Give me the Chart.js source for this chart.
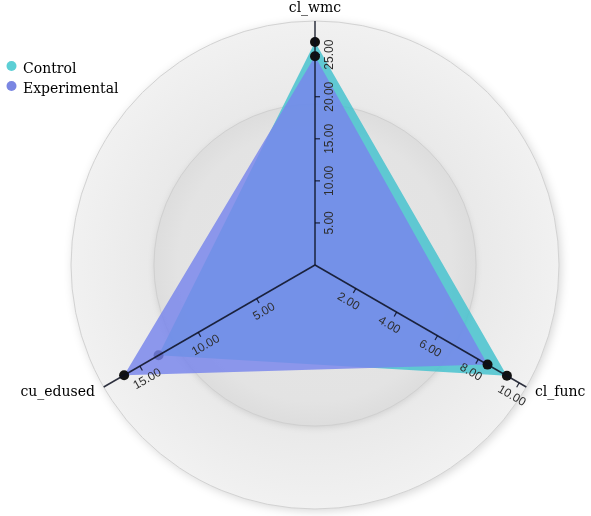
<!DOCTYPE html>
<html><head><meta charset="utf-8">
<script src="https://cdn.jsdelivr.net/npm/chart.js@4/dist/chart.umd.min.js"></script>
<style>html,body{margin:0;padding:0;background:#fff;}canvas{display:block;}</style>
</head><body>
<canvas id="c" width="591" height="516"></canvas>
<script>
// ---- data ----
const categories = ['cl_wmc', 'cl_func', 'cu_edused'];
const seriesNames = ['Control', 'Experimental'];
const controlValues = [26.5, 9.4, 13.4];
const experimentalValues = [24.8, 8.45, 16.35];
// each spoke has its own scale: value at the outer ring
const axisMax = [29.0, 10.35, 18.1];
const wmcTicks = [5, 10, 15, 20, 25];
const funcTicks = [2, 4, 6, 8, 10];
const edusedTicks = [5, 10, 15];
const axisTicks = [wmcTicks, funcTicks, edusedTicks];

// ---- styles ----
const controlFill = 'rgba(67,194,206,0.83)';
const experimentalFill = 'rgba(120,134,236,0.83)';
const legendColors = ['#5ccfd5', '#7a86e2'];
const innerRingFraction = 0.66;

const norm = (vals) => vals.map((v, i) => v / axisMax[i]);

const bgPlugin = {
  id: 'bg',
  beforeDatasetsDraw(chart) {
    const s = chart.scales.r, ctx = chart.ctx;
    const cx = s.xCenter, cy = s.yCenter;
    const R = s.getDistanceFromCenterForValue(1);
    const Ri = s.getDistanceFromCenterForValue(innerRingFraction);
    ctx.save();
    ctx.shadowColor = 'rgba(0,0,0,0.16)';
    ctx.shadowBlur = 10;
    ctx.shadowOffsetX = 2; ctx.shadowOffsetY = 2;
    let g = ctx.createRadialGradient(cx, cy, Ri, cx, cy, R);
    g.addColorStop(0, '#e9e9e9');
    g.addColorStop(1, '#f1f1f1');
    ctx.fillStyle = g;
    ctx.beginPath(); ctx.arc(cx, cy, R, 0, Math.PI * 2); ctx.fill();
    ctx.shadowColor = 'transparent';
    ctx.strokeStyle = '#d2d2d2'; ctx.lineWidth = 1;
    ctx.beginPath(); ctx.arc(cx, cy, R, 0, Math.PI * 2); ctx.stroke();
    ctx.shadowColor = 'rgba(0,0,0,0.10)';
    ctx.shadowBlur = 6; ctx.shadowOffsetX = 0; ctx.shadowOffsetY = 2;
    g = ctx.createRadialGradient(cx, cy, 0, cx, cy, Ri);
    g.addColorStop(0, '#e6e6e6');
    g.addColorStop(0.85, '#e3e3e3');
    g.addColorStop(1, '#dddddd');
    ctx.fillStyle = g;
    ctx.beginPath(); ctx.arc(cx, cy, Ri, 0, Math.PI * 2); ctx.fill();
    ctx.shadowColor = 'transparent';
    ctx.strokeStyle = '#d0d0d0';
    ctx.beginPath(); ctx.arc(cx, cy, Ri, 0, Math.PI * 2); ctx.stroke();
    ctx.restore();
  }
};

const axesPlugin = {
  id: 'axes',
  afterDatasetsDraw(chart) {
    const s = chart.scales.r, ctx = chart.ctx;
    const cx = s.xCenter, cy = s.yCenter;
    const R = s.getDistanceFromCenterForValue(1);
    ctx.save();
    categories.forEach((cat, i) => {
      const end = s.getPointPosition(i, R);
      const a = end.angle;
      const rot = Math.cos(a) < -0.01 ? a - Math.PI : a;
      const nx = -Math.sin(rot), ny = Math.cos(rot);
      ctx.strokeStyle = 'rgba(10,14,30,0.85)';
      ctx.lineWidth = 1.5;
      ctx.beginPath(); ctx.moveTo(cx, cy); ctx.lineTo(end.x, end.y); ctx.stroke();
      axisTicks[i].forEach(t => {
        const d = s.getDistanceFromCenterForValue(t / axisMax[i]);
        const px = cx + Math.cos(a) * d, py = cy + Math.sin(a) * d;
        ctx.lineWidth = 1.2;
        ctx.beginPath(); ctx.moveTo(px, py); ctx.lineTo(px + nx * 5, py + ny * 5); ctx.stroke();
        ctx.save();
        ctx.translate(px + nx * 15, py + ny * 15);
        ctx.rotate(rot);
        ctx.fillStyle = '#2e2e2e';
        ctx.font = '12px "Liberation Sans", Arial, sans-serif';
        ctx.textAlign = 'center'; ctx.textBaseline = 'middle';
        ctx.fillText(t.toFixed(2), 0, 0);
        ctx.restore();
      });
      ctx.fillStyle = '#000';
      ctx.font = '14px "DejaVu Serif", serif';
      const lp = s.getPointPosition(i, R + 10);
      if (Math.abs(Math.cos(a)) < 0.01) {
        ctx.textAlign = 'center'; ctx.textBaseline = 'alphabetic';
        ctx.fillText(cat, lp.x, lp.y + 1);
      } else {
        ctx.textAlign = Math.cos(a) > 0 ? 'left' : 'right';
        ctx.textBaseline = 'middle';
        ctx.fillText(cat, lp.x, lp.y);
      }
    });
    ctx.restore();
  },
  afterDraw(chart) {
    const ctx = chart.ctx;
    ctx.save();
    seriesNames.forEach((name, k) => {
      const y = 66 + k * 20;
      ctx.fillStyle = legendColors[k];
      ctx.beginPath(); ctx.arc(11.5, y, 5, 0, Math.PI * 2); ctx.fill();
      ctx.fillStyle = '#000';
      ctx.font = '14px "DejaVu Serif", serif';
      ctx.textAlign = 'left'; ctx.textBaseline = 'alphabetic';
      ctx.fillText(name, 23, y + 7);
    });
    ctx.restore();
  }
};

new Chart(document.getElementById('c'), {
  type: 'radar',
  data: {
    labels: categories,
    datasets: [
      { label: seriesNames[0], data: norm(controlValues), order: 2,
        backgroundColor: controlFill, borderColor: 'rgba(0,0,0,0)', borderWidth: 1, fill: true,
        pointRadius: 5, pointBackgroundColor: '#111', pointBorderWidth: 0, pointHoverRadius: 5 },
      { label: seriesNames[1], data: norm(experimentalValues), order: 1,
        backgroundColor: experimentalFill, borderColor: 'rgba(0,0,0,0)', borderWidth: 1, fill: true,
        pointRadius: 5, pointBackgroundColor: '#111', pointBorderWidth: 0, pointHoverRadius: 5 }
    ]
  },
  options: {
    responsive: false,
    animation: false,
    devicePixelRatio: 1,
    layout: { padding: { left: 71, top: 21, right: 32, bottom: 7 } },
    plugins: { legend: { display: false }, tooltip: { enabled: false } },
    scales: {
      r: {
        min: 0, max: 1,
        grid: { display: false },
        angleLines: { display: false },
        ticks: { display: false },
        pointLabels: { display: false }
      }
    }
  },
  plugins: [bgPlugin, axesPlugin]
});
</script>
</body></html>
